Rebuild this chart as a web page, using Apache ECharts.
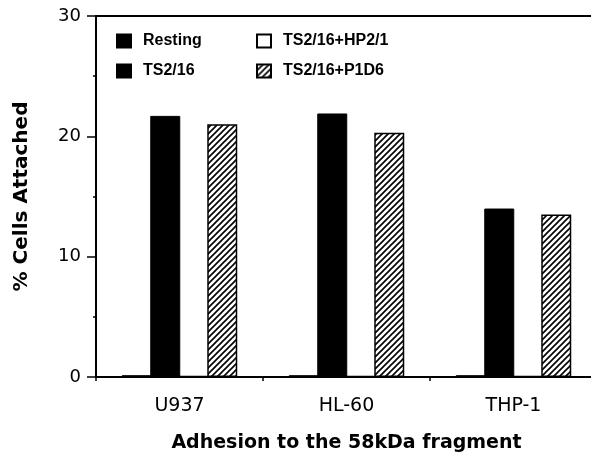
<!DOCTYPE html>
<html><head><meta charset="utf-8">
<script src="https://cdn.jsdelivr.net/npm/echarts@6/dist/echarts.min.js"></script>
<style>html,body{margin:0;padding:0;background:#fff}#c{width:591px;height:453px}</style>
</head><body><div id="c"></div>
<script>
const categories = ['U937', 'HL-60', 'THP-1'];
const seriesNames = ['Resting', 'TS2/16', 'TS2/16+HP2/1', 'TS2/16+P1D6'];
const resting = [0.15, 0.15, 0.15];
const ts216 = [21.7, 21.9, 14.0];
const ts216hp21 = [0.1, 0.1, 0.1];
const ts216p1d6 = [21.0, 20.3, 13.5];
const yTicks = [0, 10, 20, 30];

function hatch() {
  const c = document.createElement('canvas');
  c.width = 6; c.height = 6;
  const g = c.getContext('2d');
  g.fillStyle = '#fff'; g.fillRect(0, 0, 6, 6);
  g.strokeStyle = '#000'; g.lineWidth = 1.6;
  g.beginPath();
  g.moveTo(-1, 7); g.lineTo(7, -1);
  g.moveTo(-4, 4); g.lineTo(4, -4);
  g.moveTo(2, 10); g.lineTo(10, 2);
  g.stroke();
  return c;
}
const hatchPattern = { image: hatch(), repeat: 'repeat' };

const font = 'Liberation Sans, Arial, Helvetica, sans-serif';
const wide = 'DejaVu Sans, sans-serif';
const chart = echarts.init(document.getElementById('c'));
const legendText = { fontFamily: font, fontWeight: 'bold', fontSize: 16, color: '#000', padding: [0, 0, 0, 7] };
chart.setOption({
  animation: false,
  backgroundColor: '#fff',
  grid: { left: 96, right: -6, top: 16, bottom: 76, outerBoundsMode: 'none', containLabel: false },
  legend: [
    { data: [seriesNames[0], seriesNames[1]], orient: 'vertical', left: 111, top: 28, itemWidth: 14, itemHeight: 13, itemGap: 14, textStyle: legendText, icon: 'rect' },
    { data: [seriesNames[2], seriesNames[3]], orient: 'vertical', left: 251, top: 28, itemWidth: 14, itemHeight: 13, itemGap: 14, textStyle: legendText, icon: 'rect' }
  ],
  xAxis: [{
    type: 'category', data: categories,
    name: 'Adhesion to the 58kDa fragment', nameLocation: 'middle', nameGap: 57,
    nameTextStyle: { fontFamily: wide, fontWeight: 'bold', fontSize: 19, color: '#000' },
    axisLine: { lineStyle: { color: '#000', width: 2 } },
    axisTick: { show: true, length: 4, lineStyle: { color: '#000', width: 1.5 } },
    axisLabel: { fontFamily: wide, fontSize: 19, color: '#000', margin: 20 }
  }, {
    type: 'category', data: categories, position: 'top',
    axisLine: { show: true, lineStyle: { color: '#000', width: 2 } },
    axisTick: { show: false }, axisLabel: { show: false }
  }],
  yAxis: {
    type: 'value', min: 0, max: 30, interval: 10,
    name: '% Cells Attached', nameLocation: 'middle', nameGap: 64,
    nameTextStyle: { fontFamily: wide, fontWeight: 'bold', fontSize: 20, color: '#000' },
    axisLine: { show: true, lineStyle: { color: '#000', width: 2 } },
    axisTick: { show: true, length: 9, lineStyle: { color: '#000', width: 1.5 } },
    minorTick: { show: true, splitNumber: 2, length: 3, lineStyle: { color: '#000', width: 1.5 } },
    splitLine: { show: false },
    axisLabel: { fontFamily: wide, fontSize: 18, color: '#000', margin: 15,
      formatter: v => yTicks.includes(v) ? String(v) : '' }
  },
  series: [
    { name: seriesNames[0], type: 'bar', data: resting, barWidth: 30, barGap: '-5%', barCategoryGap: '30%',
      itemStyle: { color: '#000', borderColor: '#000', borderWidth: 1 } },
    { name: seriesNames[1], type: 'bar', data: ts216, barWidth: 30, barGap: '-5%',
      itemStyle: { color: '#000', borderColor: '#000', borderWidth: 1 } },
    { name: seriesNames[2], type: 'bar', data: ts216hp21, barWidth: 30, barGap: '-5%',
      itemStyle: { color: '#fff', borderColor: '#000', borderWidth: 1.5 } },
    { name: seriesNames[3], type: 'bar', data: ts216p1d6, barWidth: 30, barGap: '-5%',
      itemStyle: { color: hatchPattern, borderColor: '#000', borderWidth: 1.5 } }
  ]
});
</script>
</body></html>
